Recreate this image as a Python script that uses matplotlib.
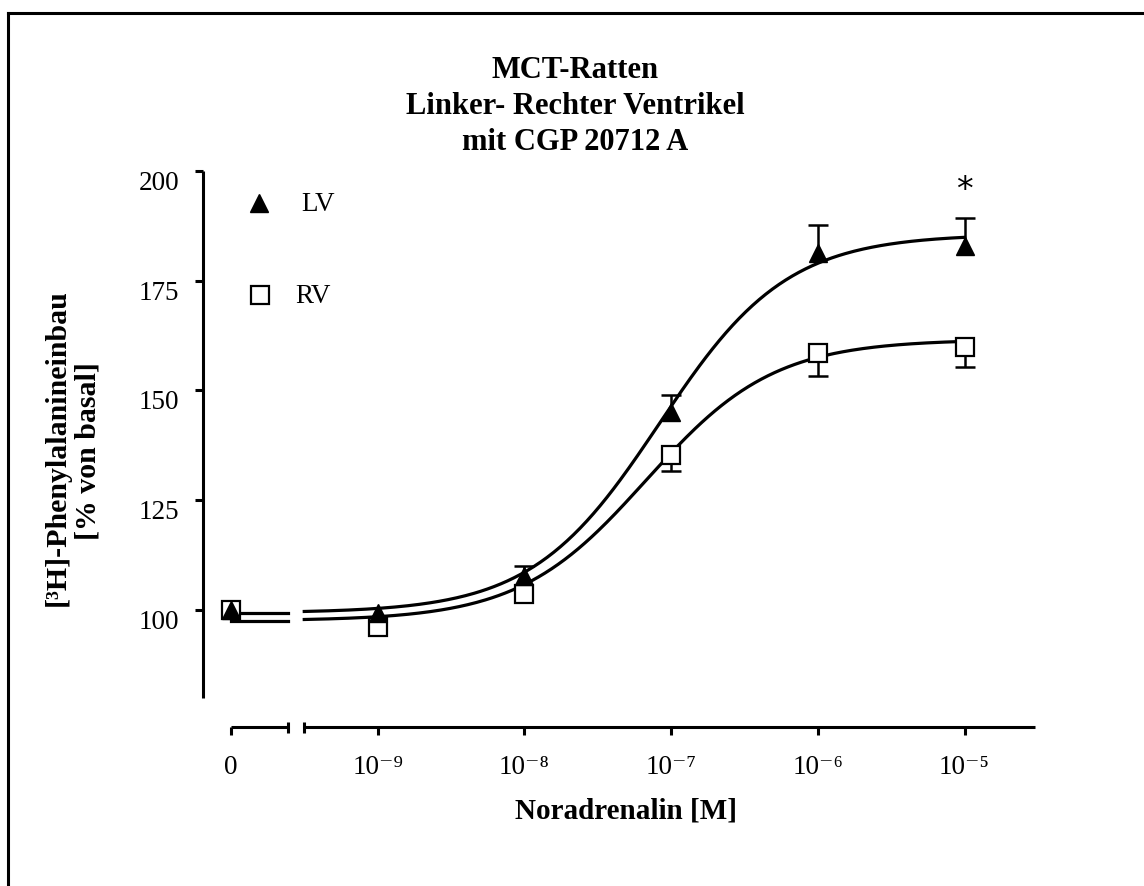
import numpy as np
import matplotlib
matplotlib.use("Agg")
import matplotlib.pyplot as plt
from matplotlib.lines import Line2D
from matplotlib.transforms import blended_transform_factory

plt.rcParams["font.family"] = ["Liberation Serif", "DejaVu Serif"]

# Concentrations as log10 [M]; the basal (0 M) point sits one decade left of 1e-9
log_conc = [-10, -9, -8, -7, -6, -5]
x_labels = ["0", "10⁻⁹", "10⁻⁸", "10⁻⁷", "10⁻⁶", "10⁻⁵"]
y_ticks = [100, 125, 150, 175, 200]

# Mean [3H]-phenylalanine incorporation (% of basal) and SEM
lv_mean = [100.0, 99.2, 107.8, 145.0, 181.3, 182.8]
lv_sem = [0.0, 0.0, 2.2, 4.0, 6.5, 6.5]
rv_mean = [100.0, 96.0, 103.5, 135.3, 158.5, 159.9]
rv_sem = [0.0, 0.0, 0.0, 3.6, 5.3, 4.5]

# Sigmoid fit parameters: bottom, top, logEC50, Hill slope
lv_fit = (99.3, 185.6, -7.08, 1.0)
rv_fit = (97.5, 161.6, -7.17, 1.0)

title_lines = ["MCT-Ratten", "Linker- Rechter Ventrikel", "mit CGP 20712 A"]


def sigmoid(x, bottom, top, logec50, hill):
    return bottom + (top - bottom) / (1.0 + 10 ** ((logec50 - x) * hill))


W, H = 1144, 886
fig = plt.figure(figsize=(W / 100, H / 100), dpi=100)
ax = fig.add_axes([203 / W, 1 - 727 / H, (1035 - 203) / W, (727 - 171) / H])
ax.set_xlim(-10.19, -4.52)
ax.set_ylim(73.3, 200)

lw_axis = 2.2
for s in ["top", "right", "bottom"]:
    ax.spines[s].set_visible(False)
ax.spines["left"].set_linewidth(lw_axis)
ax.spines["left"].set_bounds(80, 200)
ax.spines["left"].set_capstyle("butt")

ax.set_yticks(y_ticks)
ax.tick_params(axis="y", direction="out", length=6, width=lw_axis, labelsize=19.5, pad=11)
for lab in ax.get_yticklabels():
    lab.set_verticalalignment("top")
ax.set_xticks(log_conc)
ax.set_xticklabels(x_labels)
ax.tick_params(axis="x", direction="out", length=6, width=lw_axis, labelsize=19.5, pad=14)

# Broken x axis: short segment for the basal point, long segment for the log range
trans = blended_transform_factory(ax.transData, ax.transAxes)
zero_seg = (-10.0, -9.61)
log_seg = (-9.5, -4.52)
for seg in (zero_seg, log_seg):
    ax.plot(seg, [0, 0], color="black", lw=lw_axis, transform=trans, clip_on=False,
            solid_capstyle="butt")
for xe in (zero_seg[1], log_seg[0]):
    ax.plot([xe, xe], [-0.011, 0.009], color="black", lw=lw_axis, transform=trans,
            clip_on=False, solid_capstyle="butt")

# Fitted curves, drawn on both axis segments
xs_zero = np.linspace(zero_seg[0], zero_seg[1], 20)
xs_log = np.linspace(log_seg[0], -5.0, 300)
for fit in (lv_fit, rv_fit):
    ax.plot(xs_zero, np.full_like(xs_zero, fit[0]), color="black", lw=2.3, zorder=2)
    ax.plot(xs_log, sigmoid(xs_log, *fit), color="black", lw=2.3, zorder=2)

# One-sided error bars: LV upward, RV downward
cap_half = 0.068
for xs, means, sems, sign in ((log_conc, lv_mean, lv_sem, 1), (log_conc, rv_mean, rv_sem, -1)):
    for x, m, e in zip(xs, means, sems):
        if e <= 0:
            continue
        end = m + sign * e
        ax.plot([x, x], [m, end], color="black", lw=1.8, zorder=3, solid_capstyle="butt")
        ax.plot([x - cap_half, x + cap_half], [end, end], color="black", lw=1.8, zorder=3,
                solid_capstyle="butt")

ax.plot(log_conc, rv_mean, "s", ms=13, mfc="white", mec="black", mew=1.6, ls="none", zorder=4)
ax.plot(log_conc, lv_mean, "^", ms=13.5, mfc="black", mec="black", mew=1, ls="none", zorder=5)

# Significance marker
ax.text(log_conc[-1], 195.5, "*", ha="center", va="center", fontsize=24,
        family=["DejaVu Sans"])

# Legend
ax.plot([-9.81], [192.6], "^", ms=13.5, mfc="black", mec="black", mew=1)
ax.text(-9.52, 192.4, "LV", ha="left", va="center", fontsize=19.5)
ax.plot([-9.80], [171.7], "s", ms=13, mfc="white", mec="black", mew=1.6)
ax.text(-9.56, 171.3, "RV", ha="left", va="center", fontsize=19.5)

# Axis labels
fig.text(626 / W, 1 - 818 / H, "Noradrenalin [M]", ha="center", va="baseline",
         fontsize=21, fontweight="bold")
fig.text(57 / W, 1 - 448 / H, "[³H]-Phenylalanineinbau", rotation=90, ha="center",
         va="center", fontsize=21.5, fontweight="bold")
fig.text(88 / W, 1 - 451 / H, "[% von basal]", rotation=90, ha="center",
         va="center", fontsize=21.5, fontweight="bold")

# Title, one line per baseline
for line, base in zip(title_lines, (78, 114, 150)):
    fig.text(575 / W, 1 - base / H, line, ha="center", va="baseline",
             fontsize=22, fontweight="bold")

# Outer frame (top and left edges)
fig.add_artist(Line2D([8 / W, 8 / W], [0, 1 - 13 / H], color="black", lw=2.2,
                      transform=fig.transFigure))
fig.add_artist(Line2D([8 / W, 1], [1 - 13 / H, 1 - 13 / H], color="black", lw=2.2,
                      transform=fig.transFigure))

fig.savefig("out.png", dpi=100)
